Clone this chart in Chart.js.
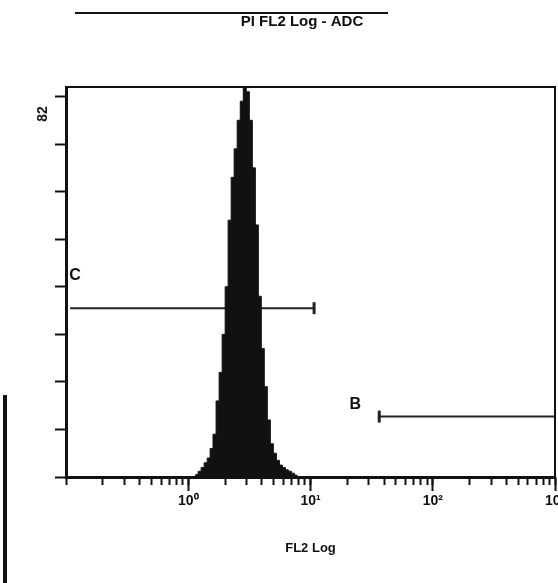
<!DOCTYPE html>
<html>
<head>
<meta charset="utf-8">
<script src="https://cdn.jsdelivr.net/npm/chart.js@4.4.1/dist/chart.umd.min.js"></script>
<style>
  html, body { margin: 0; padding: 0; background: #fff; }
  #wrap { width: 558px; height: 583px; }
</style>
</head>
<body>
<div id="wrap"><canvas id="histChart"></canvas></div>
<script>
// data
const plotTitle = 'PI FL2 Log - ADC';
const xTitle = 'FL2 Log';
const yMax = 82;
const binValues = [1.13, 1.17, 1.24, 1.31, 1.39, 1.47, 1.55, 1.64, 1.74, 1.84,
                   1.95, 2.06, 2.18, 2.31, 2.44, 2.59, 2.74, 2.9, 3.07, 3.25,
                   3.44, 3.64, 3.85, 4.07, 4.31, 4.56, 4.83, 5.11, 5.41, 5.73,
                   6.06, 6.42, 6.79, 7.19, 7.61, 7.9];
const binCounts = [0, 0.5, 1.2, 2, 3, 4, 6, 9, 16, 22,
                   30, 40, 54, 63, 69, 75, 79, 82, 81, 75,
                   65, 53, 38, 27, 19, 12, 7, 5, 3.5, 2.5,
                   2, 1.5, 1.2, 0.8, 0.4, 0];
const majorTicks = [1, 10, 100, 1000];
const majorLabels = ['10⁰', '10¹', '10²', '10³'];
const yTicks = [0, 10, 20, 30, 40, 50, 60, 70, 80];
const gateC = [0.108, 10.7];
const gateCLevel = 35.5;
const gateB = [36.5, 1000];
const gateBLevel = 12.7;

// minor log ticks 2..9 per decade
const minorTicks = [];
[0.1, 1, 10, 100].forEach(d => {
    for (let k = 1; k <= 9; k++) minorTicks.push(k * d);
});
minorTicks.push(1000);

const ink = '#111';

const extras = {
    id: 'extras',
    afterDraw(chart) {
        const { ctx, chartArea: a, scales } = chart;
        const xs = scales.x, ys = scales.y;
        ctx.save();
        ctx.strokeStyle = ink;
        ctx.fillStyle = ink;

        // top + right frame
        ctx.lineWidth = 2;
        ctx.beginPath();
        ctx.moveTo(a.left, a.top);
        ctx.lineTo(a.right, a.top);
        ctx.lineTo(a.right, a.bottom);
        ctx.stroke();

        // rule above the title
        ctx.lineWidth = 2;
        ctx.beginPath();
        ctx.moveTo(75, 13);
        ctx.lineTo(388, 13);
        ctx.stroke();

        ctx.font = 'bold 15px "Liberation Sans", Arial, sans-serif';
        ctx.textAlign = 'center';
        ctx.textBaseline = 'middle';
        ctx.fillText(plotTitle, 302, 22);

        // y max label, rotated
        ctx.save();
        ctx.translate(43, ys.getPixelForValue(yMax) + 27);
        ctx.rotate(-Math.PI / 2);
        ctx.font = 'bold 14px "Liberation Sans", Arial, sans-serif';
        ctx.fillText(String(yMax), 0, 0);
        ctx.restore();

        // gate labels
        ctx.font = 'bold 16px "Liberation Sans", Arial, sans-serif';
        ctx.fillText('C', xs.getPixelForValue(gateC[0]) + 5, ys.getPixelForValue(gateCLevel) - 33);
        ctx.fillText('B', xs.getPixelForValue(gateB[0]) - 24, ys.getPixelForValue(gateBLevel) - 12);

        // scan edge on the left
        ctx.lineWidth = 4;
        ctx.beginPath();
        ctx.moveTo(5, 395);
        ctx.lineTo(5, 583);
        ctx.stroke();
        ctx.restore();
    }
};

new Chart(document.getElementById('histChart'), {
    type: 'line',
    data: {
        datasets: [
            {
                data: binValues.map((v, i) => ({ x: v, y: binCounts[i] })),
                stepped: 'middle',
                fill: 'origin',
                backgroundColor: ink,
                borderColor: ink,
                borderWidth: 1,
                pointRadius: 0
            },
            {
                data: gateC.map(v => ({ x: v, y: gateCLevel })),
                borderColor: '#222',
                borderWidth: 2,
                pointStyle: 'line',
                pointRotation: 90,
                pointRadius: [0, 6],
                pointBorderWidth: 3,
                pointBorderColor: '#222'
            },
            {
                data: gateB.map(v => ({ x: v, y: gateBLevel })),
                borderColor: '#222',
                borderWidth: 2,
                pointStyle: 'line',
                pointRotation: 90,
                pointRadius: [6, 0],
                pointBorderWidth: 3,
                pointBorderColor: '#222'
            }
        ]
    },
    options: {
        responsive: true,
        maintainAspectRatio: false,
        animation: false,
        layout: { autoPadding: false, padding: { left: 0, top: 87, right: 3, bottom: 0 } },
        plugins: { legend: { display: false }, tooltip: { enabled: false } },
        scales: {
            x2: {
                type: 'logarithmic',
                position: 'bottom',
                weight: 0,
                min: 0.1,
                max: 1000,
                afterBuildTicks: s => { s.ticks = minorTicks.map(v => ({ value: v })); },
                afterFit: s => { s.height = 0; s.paddingLeft = 0; s.paddingRight = 0; },
                ticks: { display: false },
                border: { display: false },
                grid: { drawOnChartArea: false, tickLength: 8, tickColor: ink, tickWidth: 2 }
            },
            x: {
                type: 'logarithmic',
                position: 'bottom',
                weight: 1,
                min: 0.1,
                max: 1000,
                afterBuildTicks: s => { s.ticks = majorTicks.map(v => ({ value: v })); },
                afterFit: s => { s.height = 106; s.paddingLeft = 0; s.paddingRight = 0; },
                ticks: {
                    autoSkip: false,
                    maxRotation: 0,
                    padding: 2,
                    color: ink,
                    font: { family: '"Liberation Sans", Arial, sans-serif', size: 14, weight: 'bold' },
                    callback: (v) => majorLabels[majorTicks.indexOf(v)]
                },
                border: { display: true, color: ink, width: 3 },
                grid: { drawOnChartArea: false, tickLength: 14, tickColor: ink, tickWidth: 2 },
                title: {
                    display: true,
                    text: xTitle,
                    color: ink,
                    font: { family: '"Liberation Sans", Arial, sans-serif', size: 13, weight: 'bold' },
                    padding: { top: 0, bottom: 27 }
                }
            },
            y: {
                min: 0,
                max: yMax,
                afterBuildTicks: s => { s.ticks = yTicks.map(v => ({ value: v })); },
                afterFit: s => { s.width = 66; },
                ticks: { display: false },
                border: { display: true, color: ink, width: 3 },
                grid: { drawOnChartArea: false, tickLength: 11, tickColor: ink, tickWidth: 2 }
            }
        }
    },
    plugins: [extras]
});
</script>
</body>
</html>
